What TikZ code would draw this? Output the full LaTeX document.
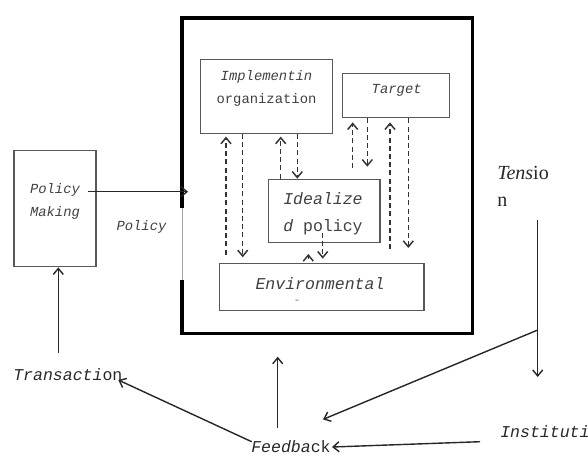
\documentclass[tikz,border=0pt]{standalone}
\usepackage{fontspec}
\setmainfont{Liberation Serif}
\newfontfamily\monofnt{Liberation Mono}
\usetikzlibrary{arrows.meta}
\newcommand\fA{\monofnt\fontsize{10.4pt}{17.4pt}\selectfont}
\newcommand\fB{\monofnt\fontsize{12.4pt}{20.4pt}\selectfont}
\definecolor{boxgray}{HTML}{585858}
\definecolor{txtgray}{HTML}{404040}
\definecolor{txtdark}{HTML}{282828}
\begin{document}
\begin{tikzpicture}[x=0.75pt,y=-0.75pt,
  box/.style={draw=boxgray,line width=1pt,rectangle,inner sep=0pt},
  intext/.style={text=txtgray,inner sep=0pt},
  outtext/.style={text=txtdark,inner sep=0pt},
  arr/.style={draw=black!85,line width=1.05pt,-{Straight Barb[length=4.5pt,width=7.5pt,line width=1.05pt]}},
  darr/.style={draw=black!80,line width=1.15pt,dash pattern=on 3.75pt off 2.4pt,-{Straight Barb[length=4.5pt,width=7.5pt,line width=1.1pt]}},
  thickline/.style={draw=black,line width=2.4pt}]
\useasboundingbox (0,0) rectangle (588,455);
% big frame
\draw[thickline] (182,208) -- (182,18) -- (472.5,18) -- (472.5,333.5) -- (182,333.5) -- (182,280);
\draw[draw=gray!70,line width=0.7pt] (182,208) -- (182,280);
% boxes
\node[box,minimum width=61.5pt,minimum height=87pt] (pm) at (55,208.7) {};
\node[box,minimum width=99pt,minimum height=55.5pt] (impl) at (266.7,96.3) {};
\node[box,minimum width=80pt,minimum height=33.3pt] (target) at (396,95.5) {};
\node[box,minimum width=83.8pt,minimum height=47.5pt] (ideal) at (324.2,211) {};
\node[box,minimum width=153.5pt,minimum height=35.6pt] (env) at (321.7,287) {};
% texts in boxes
\node[intext,align=center,font=\fA\itshape] (pmtext) at (55,201.5) {Policy\\Making};
\node[intext,align=center,font=\fA] (impltext) at (266.5,88.3) {\textit{Implementin}\\organization};
\node[intext,font=\fA\itshape] (targettext) at (396.7,90.7) {Target};
\node[intext,align=left,anchor=west,font=\fB] (idealtext) at (283,213.6) {\textit{Idealize}\\\textit{d} policy};
\node[intext,font=\fB\itshape] (envtext) at (320,283.3) {Environmental};
\node[intext,text=gray,font=\fontsize{9pt}{10pt}\selectfont] (envdash) at (297,302) {-};
% outside texts
\node[intext,font=\fA\itshape] (policylabel) at (141.5,227) {Policy};
\node[outtext,align=left,anchor=west,font=\fontsize{15pt}{20.3pt}\selectfont] (tension) at (497,186.4) {\textit{Tens}io\\n};
\node[outtext,anchor=west,font=\fB] (trans) at (13,375) {\textit{Transacti}on};
\node[outtext,anchor=west,font=\fB] (feed) at (251,447) {\textit{Feedba}ck};
\node[outtext,anchor=west,font=\fB\itshape] (inst) at (500,432) {Instituti};
% policy arrow
\coordinate (pstart) at (88,191.7);
\coordinate (pend) at (188,191.7);
\draw[arr] (pstart) -- (pend);
% transaction -> policy making
\coordinate (tup) at (58.3,353);
\draw[arr] (tup) -- (tup |- pm.south);
% feedback -> transaction
\coordinate (fbl) at (251.7,441.7);
\coordinate (trr) at (118.3,380);
\draw[arr] (fbl) -- (trr);
% feedback up
\coordinate (fbu) at (277.7,428);
\coordinate (fbut) at (277.7,356.7);
\draw[arr] (fbu) -- (fbut);
% tension down
\coordinate (tstart) at (537.7,220);
\coordinate (tend) at (537.7,377);
\coordinate (tbranch) at (537.7,330);
\coordinate (fbtip) at (323,419.4);
\draw[arr] (tstart) -- (tend);
\draw[arr] (tbranch) -- (fbtip);
% institution -> feedback
\coordinate (instl) at (480,441.7);
\coordinate (fbr) at (332,447);
\draw[arr] (instl) -- (fbr);
% dashed arrows
\coordinate (xa) at (226,0);
\coordinate (xb) at (242.7,0);
\coordinate (xc) at (280.7,0);
\coordinate (xd) at (297.3,0);
\coordinate (xe) at (352.7,0);
\coordinate (xf) at (367.3,0);
\coordinate (xg) at (390,0);
\coordinate (xh) at (408.3,0);
\coordinate (xi) at (308.3,0);
\coordinate (xj) at (322.7,0);
\draw[darr,shorten <=6pt,shorten >=2pt] (env.north -| xa) -- (impl.south -| xa);
\draw[darr,shorten >=4pt] (impl.south -| xb) -- (env.north -| xb);
\draw[darr,shorten >=2pt] (ideal.north -| xc) -- (impl.south -| xc);
\draw[darr] (impl.south -| xd) -- (ideal.north -| xd);
\draw[darr,shorten <=8pt,shorten >=3pt] (ideal.north -| xe) -- (target.south -| xe);
\draw[darr,shorten >=9pt] (target.south -| xf) -- (ideal.north -| xf);
\draw[darr,shorten <=10pt,shorten >=3pt] (env.north -| xg) -- (target.south -| xg);
\draw[darr,shorten >=11pt] (target.south -| xh) -- (env.north -| xh);
\draw[darr,shorten <=3pt,shorten >=8pt] (env.north -| xi) -- (ideal.south -| xi);
\draw[darr,shorten <=-8pt,shorten >=3pt] (ideal.south -| xj) -- (env.north -| xj);
\end{tikzpicture}
\end{document}
